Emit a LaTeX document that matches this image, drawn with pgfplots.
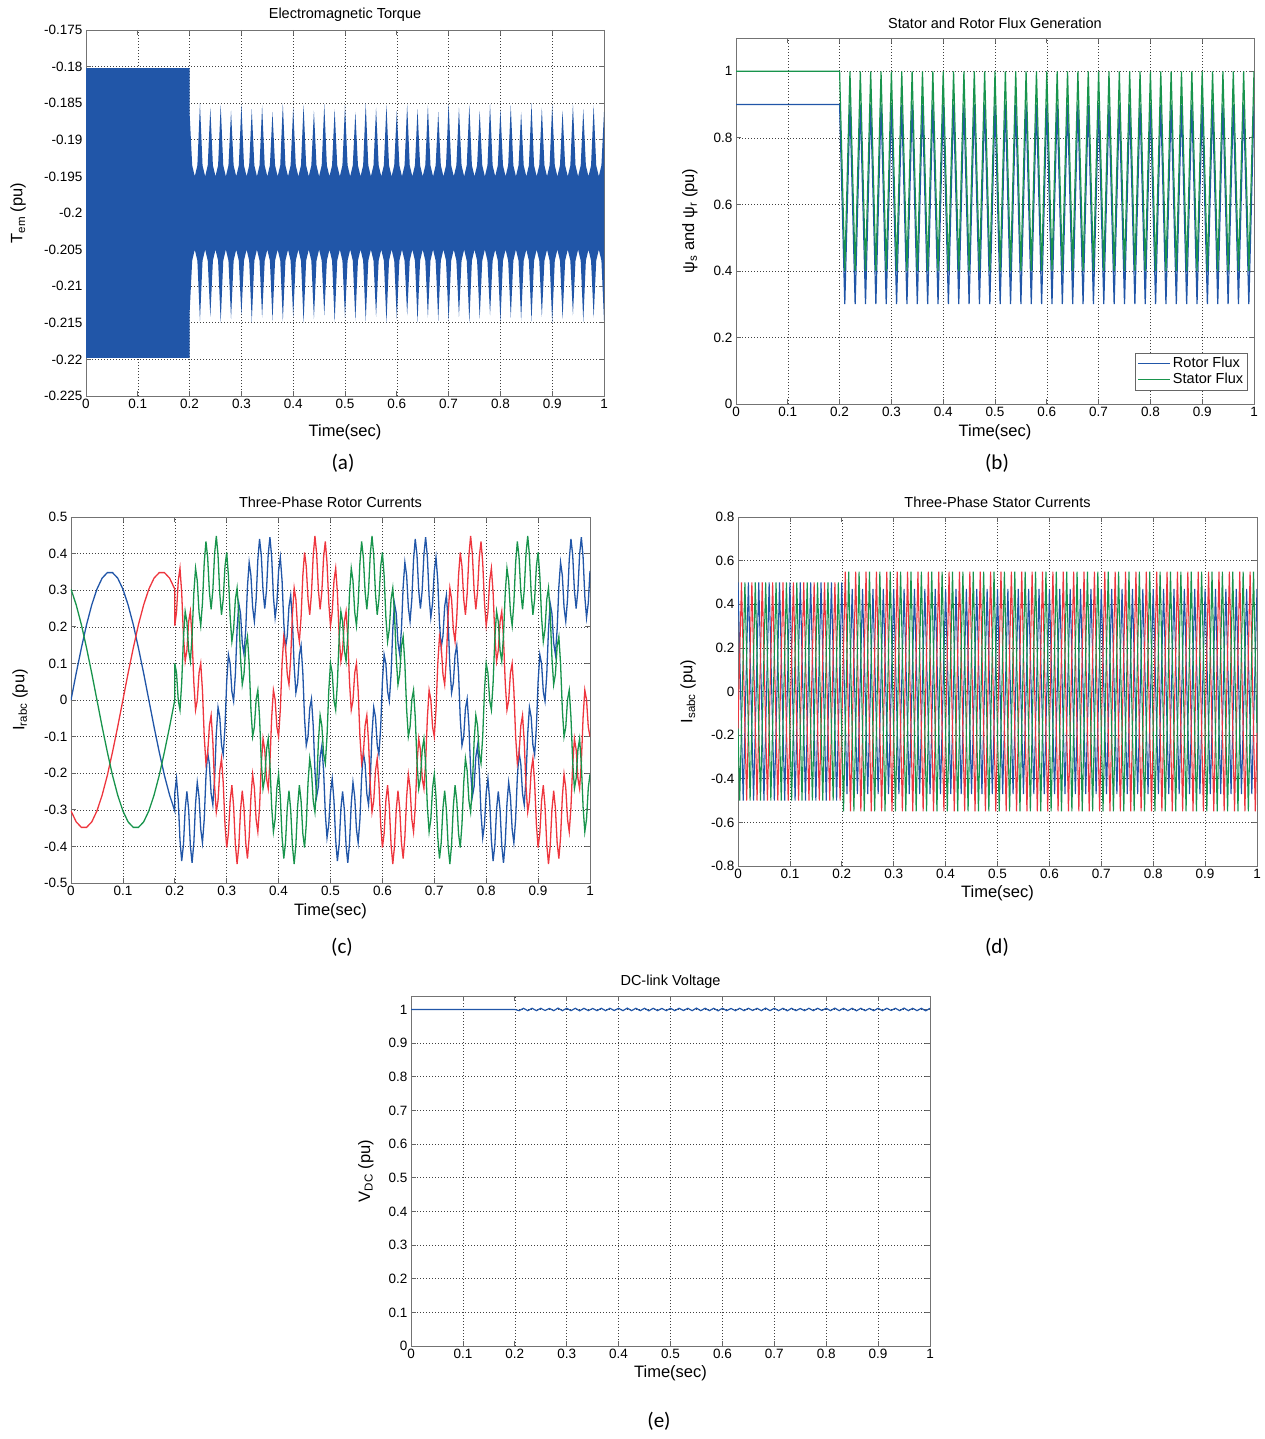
\documentclass[border=0pt]{standalone}
\usepackage{fontspec}
\setmainfont{Liberation Sans}
\newfontfamily\subfont{Carlito}
\usepackage{pgfplots}
\usepackage{pgfplotstable}
\pgfplotsset{compat=1.18}

\definecolor{mblue}{RGB}{33,86,168}
\definecolor{mgreen}{RGB}{24,148,76}
\definecolor{mred}{RGB}{238,54,62}

\pgfplotsset{
  matlab/.style={
    scale only axis, anchor=north west,
    xmin=0, xmax=1,
    xtick={0,0.1,0.2,0.3,0.4,0.5,0.6,0.7,0.8,0.9,1},
    xticklabels={0,0.1,0.2,0.3,0.4,0.5,0.6,0.7,0.8,0.9,1},
    grid=major,
    grid style={black!75, dash pattern=on 1pt off 2pt, line width=0.6pt},
    axis line style={black!55, line width=0.8pt},
    tick align=inside, major tick length=5pt,
    tick style={black!60, line width=0.7pt},
    tick label style={font=\fontsize{13.5}{15}\selectfont},
    title style={font=\fontsize{14.5}{16}\selectfont, at={(axis description cs:0.5,1.044)}, anchor=center, yshift=-7pt},
    label style={font=\fontsize{16.5}{18}\selectfont},
    xlabel={Time(sec)},
    xlabel style={at={(axis description cs:0.5,-0.077)}, anchor=center},
  }
}

% stator (g) and rotor (b) flux
\pgfplotstableread{
x g b
0 1 0.9
0.2 1 0.9
0.21 0.4 0.3
0.22 1 0.9
0.23 0.4 0.3
0.24 1 0.9
0.25 0.4 0.3
0.26 1 0.9
0.27 0.4 0.3
0.28 1 0.9
0.29 0.4 0.3
0.30 1 0.9
0.31 0.4 0.3
0.32 1 0.9
0.33 0.4 0.3
0.34 1 0.9
0.35 0.4 0.3
0.36 1 0.9
0.37 0.4 0.3
0.38 1 0.9
0.39 0.4 0.3
0.40 1 0.9
0.41 0.4 0.3
0.42 1 0.9
0.43 0.4 0.3
0.44 1 0.9
0.45 0.4 0.3
0.46 1 0.9
0.47 0.4 0.3
0.48 1 0.9
0.49 0.4 0.3
0.50 1 0.9
0.51 0.4 0.3
0.52 1 0.9
0.53 0.4 0.3
0.54 1 0.9
0.55 0.4 0.3
0.56 1 0.9
0.57 0.4 0.3
0.58 1 0.9
0.59 0.4 0.3
0.60 1 0.9
0.61 0.4 0.3
0.62 1 0.9
0.63 0.4 0.3
0.64 1 0.9
0.65 0.4 0.3
0.66 1 0.9
0.67 0.4 0.3
0.68 1 0.9
0.69 0.4 0.3
0.70 1 0.9
0.71 0.4 0.3
0.72 1 0.9
0.73 0.4 0.3
0.74 1 0.9
0.75 0.4 0.3
0.76 1 0.9
0.77 0.4 0.3
0.78 1 0.9
0.79 0.4 0.3
0.80 1 0.9
0.81 0.4 0.3
0.82 1 0.9
0.83 0.4 0.3
0.84 1 0.9
0.85 0.4 0.3
0.86 1 0.9
0.87 0.4 0.3
0.88 1 0.9
0.89 0.4 0.3
0.90 1 0.9
0.91 0.4 0.3
0.92 1 0.9
0.93 0.4 0.3
0.94 1 0.9
0.95 0.4 0.3
0.96 1 0.9
0.97 0.4 0.3
0.98 1 0.9
0.99 0.4 0.3
1.00 1 0.9
}\flux

% three-phase rotor currents
\pgfplotstableread{
x b r g
0 0 -0.303 0.303
0.01 0.073 -0.333 0.260
0.02 0.142 -0.348 0.206
0.03 0.206 -0.348 0.142
0.04 0.260 -0.333 0.073
0.05 0.303 -0.303 0
0.06 0.333 -0.260 -0.073
0.07 0.348 -0.206 -0.142
0.08 0.348 -0.142 -0.206
0.09 0.333 -0.073 -0.260
0.1 0.303 0 -0.303
0.11 0.260 0.073 -0.333
0.12 0.206 0.142 -0.348
0.13 0.142 0.206 -0.348
0.14 0.073 0.260 -0.333
0.15 0 0.303 -0.303
0.16 -0.073 0.333 -0.260
0.17 -0.142 0.348 -0.206
0.18 -0.206 0.348 -0.142
0.19 -0.260 0.333 -0.073
0.2 -0.303 0.303 0
0.2 -0.253 0.203 0.100
0.2033 -0.215 0.240 0.074
0.2067 -0.275 0.326 -0.001
0.21 -0.383 0.360 -0.027
0.2133 -0.440 0.293 0.047
0.2167 -0.395 0.175 0.170
0.22 -0.298 0.106 0.242
0.2233 -0.250 0.136 0.214
0.2267 -0.300 0.214 0.136
0.23 -0.398 0.242 0.106
0.2333 -0.445 0.170 0.175
0.2367 -0.390 0.047 0.293
0.24 -0.283 -0.027 0.360
0.2433 -0.225 -0.001 0.326
0.2467 -0.265 0.074 0.240
0.25 -0.353 0.100 0.203
0.2533 -0.390 0.026 0.265
0.2567 -0.326 -0.099 0.375
0.26 -0.210 -0.173 0.433
0.2633 -0.143 -0.147 0.390
0.2667 -0.175 -0.070 0.295
0.27 -0.256 -0.042 0.248
0.2733 -0.286 -0.114 0.300
0.2767 -0.214 -0.236 0.400
0.28 -0.092 -0.306 0.448
0.2833 -0.020 -0.275 0.395
0.2867 -0.047 -0.193 0.290
0.29 -0.123 -0.160 0.233
0.2933 -0.149 -0.226 0.275
0.2967 -0.074 -0.340 0.365
0.3 0.050 -0.403 0.403
0.3033 0.124 -0.365 0.340
0.3067 0.099 -0.275 0.226
0.31 0.023 -0.233 0.160
0.3133 -0.003 -0.290 0.193
0.3167 0.070 -0.395 0.275
0.32 0.192 -0.448 0.306
0.3233 0.264 -0.400 0.236
0.3267 0.236 -0.300 0.114
0.33 0.156 -0.248 0.042
0.3333 0.125 -0.295 0.070
0.3367 0.193 -0.390 0.147
0.34 0.310 -0.433 0.173
0.3433 0.376 -0.375 0.099
0.3467 0.340 -0.265 -0.026
0.35 0.253 -0.203 -0.100
0.3533 0.215 -0.240 -0.074
0.3567 0.275 -0.326 0.001
0.36 0.383 -0.360 0.027
0.3633 0.440 -0.293 -0.047
0.3667 0.395 -0.175 -0.170
0.37 0.298 -0.106 -0.242
0.3733 0.250 -0.136 -0.214
0.3767 0.300 -0.214 -0.136
0.38 0.398 -0.242 -0.106
0.3833 0.445 -0.170 -0.175
0.3867 0.390 -0.047 -0.293
0.39 0.283 0.027 -0.360
0.3933 0.225 0.001 -0.326
0.3967 0.265 -0.074 -0.240
0.4 0.353 -0.100 -0.203
0.4033 0.390 -0.026 -0.265
0.4067 0.326 0.099 -0.375
0.41 0.210 0.173 -0.433
0.4133 0.143 0.147 -0.390
0.4167 0.175 0.070 -0.295
0.42 0.256 0.042 -0.248
0.4233 0.286 0.114 -0.300
0.4267 0.214 0.236 -0.400
0.43 0.092 0.306 -0.448
0.4333 0.020 0.275 -0.395
0.4367 0.047 0.193 -0.290
0.44 0.123 0.160 -0.233
0.4433 0.149 0.226 -0.275
0.4467 0.074 0.340 -0.365
0.45 -0.050 0.403 -0.403
0.4533 -0.124 0.365 -0.340
0.4567 -0.099 0.275 -0.226
0.46 -0.023 0.233 -0.160
0.4633 0.003 0.290 -0.193
0.4667 -0.070 0.395 -0.275
0.47 -0.192 0.448 -0.306
0.4733 -0.264 0.400 -0.236
0.4767 -0.236 0.300 -0.114
0.48 -0.156 0.248 -0.042
0.4833 -0.125 0.295 -0.070
0.4867 -0.193 0.390 -0.147
0.49 -0.310 0.433 -0.173
0.4933 -0.376 0.375 -0.099
0.4967 -0.340 0.265 0.026
0.5 -0.253 0.203 0.100
0.5033 -0.215 0.240 0.074
0.5067 -0.275 0.326 -0.001
0.51 -0.383 0.360 -0.027
0.5133 -0.440 0.293 0.047
0.5167 -0.395 0.175 0.170
0.52 -0.298 0.106 0.242
0.5233 -0.250 0.136 0.214
0.5267 -0.300 0.214 0.136
0.53 -0.398 0.242 0.106
0.5333 -0.445 0.170 0.175
0.5367 -0.390 0.047 0.293
0.54 -0.283 -0.027 0.360
0.5433 -0.225 -0.001 0.326
0.5467 -0.265 0.074 0.240
0.55 -0.353 0.100 0.203
0.5533 -0.390 0.026 0.265
0.5567 -0.326 -0.099 0.375
0.56 -0.210 -0.173 0.433
0.5633 -0.143 -0.147 0.390
0.5667 -0.175 -0.070 0.295
0.57 -0.256 -0.042 0.248
0.5733 -0.286 -0.114 0.300
0.5767 -0.214 -0.236 0.400
0.58 -0.092 -0.306 0.448
0.5833 -0.020 -0.275 0.395
0.5867 -0.047 -0.193 0.290
0.59 -0.123 -0.160 0.233
0.5933 -0.149 -0.226 0.275
0.5967 -0.074 -0.340 0.365
0.6 0.050 -0.403 0.403
0.6033 0.124 -0.365 0.340
0.6067 0.099 -0.275 0.226
0.61 0.023 -0.233 0.160
0.6133 -0.003 -0.290 0.193
0.6167 0.070 -0.395 0.275
0.62 0.192 -0.448 0.306
0.6233 0.264 -0.400 0.236
0.6267 0.236 -0.300 0.114
0.63 0.156 -0.248 0.042
0.6333 0.125 -0.295 0.070
0.6367 0.193 -0.390 0.147
0.64 0.310 -0.433 0.173
0.6433 0.376 -0.375 0.099
0.6467 0.340 -0.265 -0.026
0.65 0.253 -0.203 -0.100
0.6533 0.215 -0.240 -0.074
0.6567 0.275 -0.326 0.001
0.66 0.383 -0.360 0.027
0.6633 0.440 -0.293 -0.047
0.6667 0.395 -0.175 -0.170
0.67 0.298 -0.106 -0.242
0.6733 0.250 -0.136 -0.214
0.6767 0.300 -0.214 -0.136
0.68 0.398 -0.242 -0.106
0.6833 0.445 -0.170 -0.175
0.6867 0.390 -0.047 -0.293
0.69 0.283 0.027 -0.360
0.6933 0.225 0.001 -0.326
0.6967 0.265 -0.074 -0.240
0.7 0.353 -0.100 -0.203
0.7033 0.390 -0.026 -0.265
0.7067 0.326 0.099 -0.375
0.71 0.210 0.173 -0.433
0.7133 0.143 0.147 -0.390
0.7167 0.175 0.070 -0.295
0.72 0.256 0.042 -0.248
0.7233 0.286 0.114 -0.300
0.7267 0.214 0.236 -0.400
0.73 0.092 0.306 -0.448
0.7333 0.020 0.275 -0.395
0.7367 0.047 0.193 -0.290
0.74 0.123 0.160 -0.233
0.7433 0.149 0.226 -0.275
0.7467 0.074 0.340 -0.365
0.75 -0.050 0.403 -0.403
0.7533 -0.124 0.365 -0.340
0.7567 -0.099 0.275 -0.226
0.76 -0.023 0.233 -0.160
0.7633 0.003 0.290 -0.193
0.7667 -0.070 0.395 -0.275
0.77 -0.192 0.448 -0.306
0.7733 -0.264 0.400 -0.236
0.7767 -0.236 0.300 -0.114
0.78 -0.156 0.248 -0.042
0.7833 -0.125 0.295 -0.070
0.7867 -0.193 0.390 -0.147
0.79 -0.310 0.433 -0.173
0.7933 -0.376 0.375 -0.099
0.7967 -0.340 0.265 0.026
0.8 -0.253 0.203 0.100
0.8033 -0.215 0.240 0.074
0.8067 -0.275 0.326 -0.001
0.81 -0.383 0.360 -0.027
0.8133 -0.440 0.293 0.047
0.8167 -0.395 0.175 0.170
0.82 -0.298 0.106 0.242
0.8233 -0.250 0.136 0.214
0.8267 -0.300 0.214 0.136
0.83 -0.398 0.242 0.106
0.8333 -0.445 0.170 0.175
0.8367 -0.390 0.047 0.293
0.84 -0.283 -0.027 0.360
0.8433 -0.225 -0.001 0.326
0.8467 -0.265 0.074 0.240
0.85 -0.353 0.100 0.203
0.8533 -0.390 0.026 0.265
0.8567 -0.326 -0.099 0.375
0.86 -0.210 -0.173 0.433
0.8633 -0.143 -0.147 0.390
0.8667 -0.175 -0.070 0.295
0.87 -0.256 -0.042 0.248
0.8733 -0.286 -0.114 0.300
0.8767 -0.214 -0.236 0.400
0.88 -0.092 -0.306 0.448
0.8833 -0.020 -0.275 0.395
0.8867 -0.047 -0.193 0.290
0.89 -0.123 -0.160 0.233
0.8933 -0.149 -0.226 0.275
0.8967 -0.074 -0.340 0.365
0.9 0.050 -0.403 0.403
0.9033 0.124 -0.365 0.340
0.9067 0.099 -0.275 0.226
0.91 0.023 -0.233 0.160
0.9133 -0.003 -0.290 0.193
0.9167 0.070 -0.395 0.275
0.92 0.192 -0.448 0.306
0.9233 0.264 -0.400 0.236
0.9267 0.236 -0.300 0.114
0.93 0.156 -0.248 0.042
0.9333 0.125 -0.295 0.070
0.9367 0.193 -0.390 0.147
0.94 0.310 -0.433 0.173
0.9433 0.376 -0.375 0.099
0.9467 0.340 -0.265 -0.026
0.95 0.253 -0.203 -0.100
0.9533 0.215 -0.240 -0.074
0.9567 0.275 -0.326 0.001
0.96 0.383 -0.360 0.027
0.9633 0.440 -0.293 -0.047
0.9667 0.395 -0.175 -0.170
0.97 0.298 -0.106 -0.242
0.9733 0.250 -0.136 -0.214
0.9767 0.300 -0.214 -0.136
0.98 0.398 -0.242 -0.106
0.9833 0.445 -0.170 -0.175
0.9867 0.390 -0.047 -0.293
0.99 0.283 0.027 -0.360
0.9933 0.225 0.001 -0.326
0.9967 0.265 -0.074 -0.240
1 0.353 -0.100 -0.203
}\rotor

\begin{document}
\begin{tikzpicture}
\path[use as bounding box] (0pt,0pt) rectangle (1264pt,-1439pt);

% (a) Electromagnetic Torque: upper envelope left to right, lower envelope back
\begin{axis}[matlab, at={(86pt,-30pt)}, width=518pt, height=366pt,
  ymin=-0.225, ymax=-0.175,
  ytick={-0.225,-0.22,-0.215,-0.21,-0.205,-0.2,-0.195,-0.19,-0.185,-0.18,-0.175},
  yticklabels={-0.225,-0.22,-0.215,-0.21,-0.205,-0.2,-0.195,-0.19,-0.185,-0.18,-0.175},
  title={Electromagnetic Torque},
  xlabel style={at={(axis description cs:0.5,-0.098)}},
  ylabel={T\textsubscript{em} (pu)},
  ylabel style={at={(axis description cs:-0.131,0.5)}, anchor=center}]
\addplot[fill=mblue, draw=none] coordinates {
(0,-0.1802)(0.2,-0.1802)(0.2001,-0.1865)(0.205,-0.1935)(0.21,-0.195)(0.215,-0.1935)
(0.22,-0.1850)(0.225,-0.1935)(0.23,-0.195)(0.235,-0.1935)(0.24,-0.1856)(0.245,-0.1935)(0.25,-0.195)(0.255,-0.1935)
(0.26,-0.1852)(0.265,-0.1935)(0.27,-0.195)(0.275,-0.1935)(0.28,-0.1860)(0.285,-0.1935)(0.29,-0.195)(0.295,-0.1935)
(0.30,-0.1851)(0.305,-0.1935)(0.31,-0.195)(0.315,-0.1935)(0.32,-0.1858)(0.325,-0.1935)(0.33,-0.195)(0.335,-0.1935)
(0.34,-0.1853)(0.345,-0.1935)(0.35,-0.195)(0.355,-0.1935)(0.36,-0.1862)(0.365,-0.1935)(0.37,-0.195)(0.375,-0.1935)
(0.38,-0.1850)(0.385,-0.1935)(0.39,-0.195)(0.395,-0.1935)(0.40,-0.1856)(0.405,-0.1935)(0.41,-0.195)(0.415,-0.1935)
(0.42,-0.1852)(0.425,-0.1935)(0.43,-0.195)(0.435,-0.1935)(0.44,-0.1860)(0.445,-0.1935)(0.45,-0.195)(0.455,-0.1935)
(0.46,-0.1851)(0.465,-0.1935)(0.47,-0.195)(0.475,-0.1935)(0.48,-0.1858)(0.485,-0.1935)(0.49,-0.195)(0.495,-0.1935)
(0.50,-0.1853)(0.505,-0.1935)(0.51,-0.195)(0.515,-0.1935)(0.52,-0.1862)(0.525,-0.1935)(0.53,-0.195)(0.535,-0.1935)
(0.54,-0.1850)(0.545,-0.1935)(0.55,-0.195)(0.555,-0.1935)(0.56,-0.1856)(0.565,-0.1935)(0.57,-0.195)(0.575,-0.1935)
(0.58,-0.1852)(0.585,-0.1935)(0.59,-0.195)(0.595,-0.1935)(0.60,-0.1860)(0.605,-0.1935)(0.61,-0.195)(0.615,-0.1935)
(0.62,-0.1851)(0.625,-0.1935)(0.63,-0.195)(0.635,-0.1935)(0.64,-0.1858)(0.645,-0.1935)(0.65,-0.195)(0.655,-0.1935)
(0.66,-0.1853)(0.665,-0.1935)(0.67,-0.195)(0.675,-0.1935)(0.68,-0.1862)(0.685,-0.1935)(0.69,-0.195)(0.695,-0.1935)
(0.70,-0.1850)(0.705,-0.1935)(0.71,-0.195)(0.715,-0.1935)(0.72,-0.1856)(0.725,-0.1935)(0.73,-0.195)(0.735,-0.1935)
(0.74,-0.1852)(0.745,-0.1935)(0.75,-0.195)(0.755,-0.1935)(0.76,-0.1860)(0.765,-0.1935)(0.77,-0.195)(0.775,-0.1935)
(0.78,-0.1851)(0.785,-0.1935)(0.79,-0.195)(0.795,-0.1935)(0.80,-0.1858)(0.805,-0.1935)(0.81,-0.195)(0.815,-0.1935)
(0.82,-0.1853)(0.825,-0.1935)(0.83,-0.195)(0.835,-0.1935)(0.84,-0.1862)(0.845,-0.1935)(0.85,-0.195)(0.855,-0.1935)
(0.86,-0.1850)(0.865,-0.1935)(0.87,-0.195)(0.875,-0.1935)(0.88,-0.1856)(0.885,-0.1935)(0.89,-0.195)(0.895,-0.1935)
(0.90,-0.1852)(0.905,-0.1935)(0.91,-0.195)(0.915,-0.1935)(0.92,-0.1860)(0.925,-0.1935)(0.93,-0.195)(0.935,-0.1935)
(0.94,-0.1851)(0.945,-0.1935)(0.95,-0.195)(0.955,-0.1935)(0.96,-0.1858)(0.965,-0.1935)(0.97,-0.195)(0.975,-0.1935)
(0.98,-0.1853)(0.985,-0.1935)(0.99,-0.195)(0.995,-0.1935)(1.00,-0.1862)
(1.00,-0.2147)(0.995,-0.2065)(0.99,-0.205)(0.985,-0.2065)(0.98,-0.2143)(0.975,-0.2065)(0.97,-0.205)(0.965,-0.2065)
(0.96,-0.2149)(0.955,-0.2065)(0.95,-0.205)(0.945,-0.2065)(0.94,-0.2140)(0.935,-0.2065)(0.93,-0.205)(0.925,-0.2065)
(0.92,-0.2145)(0.915,-0.2065)(0.91,-0.205)(0.905,-0.2065)(0.90,-0.2150)(0.895,-0.2065)(0.89,-0.205)(0.885,-0.2065)
(0.88,-0.2142)(0.875,-0.2065)(0.87,-0.205)(0.865,-0.2065)(0.86,-0.2148)(0.855,-0.2065)(0.85,-0.205)(0.845,-0.2065)
(0.84,-0.2147)(0.835,-0.2065)(0.83,-0.205)(0.825,-0.2065)(0.82,-0.2143)(0.815,-0.2065)(0.81,-0.205)(0.805,-0.2065)
(0.80,-0.2149)(0.795,-0.2065)(0.79,-0.205)(0.785,-0.2065)(0.78,-0.2140)(0.775,-0.2065)(0.77,-0.205)(0.765,-0.2065)
(0.76,-0.2145)(0.755,-0.2065)(0.75,-0.205)(0.745,-0.2065)(0.74,-0.2150)(0.735,-0.2065)(0.73,-0.205)(0.725,-0.2065)
(0.72,-0.2142)(0.715,-0.2065)(0.71,-0.205)(0.705,-0.2065)(0.70,-0.2148)(0.695,-0.2065)(0.69,-0.205)(0.685,-0.2065)
(0.68,-0.2147)(0.675,-0.2065)(0.67,-0.205)(0.665,-0.2065)(0.66,-0.2143)(0.655,-0.2065)(0.65,-0.205)(0.645,-0.2065)
(0.64,-0.2149)(0.635,-0.2065)(0.63,-0.205)(0.625,-0.2065)(0.62,-0.2140)(0.615,-0.2065)(0.61,-0.205)(0.605,-0.2065)
(0.60,-0.2145)(0.595,-0.2065)(0.59,-0.205)(0.585,-0.2065)(0.58,-0.2150)(0.575,-0.2065)(0.57,-0.205)(0.565,-0.2065)
(0.56,-0.2142)(0.555,-0.2065)(0.55,-0.205)(0.545,-0.2065)(0.54,-0.2148)(0.535,-0.2065)(0.53,-0.205)(0.525,-0.2065)
(0.52,-0.2147)(0.515,-0.2065)(0.51,-0.205)(0.505,-0.2065)(0.50,-0.2143)(0.495,-0.2065)(0.49,-0.205)(0.485,-0.2065)
(0.48,-0.2149)(0.475,-0.2065)(0.47,-0.205)(0.465,-0.2065)(0.46,-0.2140)(0.455,-0.2065)(0.45,-0.205)(0.445,-0.2065)
(0.44,-0.2145)(0.435,-0.2065)(0.43,-0.205)(0.425,-0.2065)(0.42,-0.2150)(0.415,-0.2065)(0.41,-0.205)(0.405,-0.2065)
(0.40,-0.2142)(0.395,-0.2065)(0.39,-0.205)(0.385,-0.2065)(0.38,-0.2148)(0.375,-0.2065)(0.37,-0.205)(0.365,-0.2065)
(0.36,-0.2147)(0.355,-0.2065)(0.35,-0.205)(0.345,-0.2065)(0.34,-0.2143)(0.335,-0.2065)(0.33,-0.205)(0.325,-0.2065)
(0.32,-0.2149)(0.315,-0.2065)(0.31,-0.205)(0.305,-0.2065)(0.30,-0.2140)(0.295,-0.2065)(0.29,-0.205)(0.285,-0.2065)
(0.28,-0.2145)(0.275,-0.2065)(0.27,-0.205)(0.265,-0.2065)(0.26,-0.2150)(0.255,-0.2065)(0.25,-0.205)(0.245,-0.2065)
(0.24,-0.2142)(0.235,-0.2065)(0.23,-0.205)(0.225,-0.2065)(0.22,-0.2148)(0.215,-0.2065)(0.21,-0.205)(0.205,-0.2065)
(0.2001,-0.2135)(0.2,-0.2198)(0,-0.2198)};
\end{axis}

% (b) Stator and Rotor Flux
\begin{axis}[matlab, at={(736pt,-38pt)}, width=518pt, height=366pt,
  ymin=0, ymax=1.1,
  ytick={0,0.2,0.4,0.6,0.8,1}, yticklabels={0,0.2,0.4,0.6,0.8,1},
  title={Stator and Rotor Flux Generation},
  ylabel={ψ\textsubscript{s} and ψ\textsubscript{r} (pu)},
  ylabel style={at={(axis description cs:-0.089,0.5)}, anchor=center},
  legend style={at={(axis description cs:0.988,0.038)}, anchor=south east,
    draw=black!60, font=\fontsize{14.5}{17}\selectfont, inner sep=2.5pt,
    row sep=0pt, cells={anchor=west}},
  legend image code/.code={\draw[#1] (0pt,0pt) -- (32pt,0pt);}]
\addplot[draw=mblue, line width=1.2pt] table[x=x, y=b] {\flux};
\addlegendentry{Rotor Flux}
\addplot[draw=mgreen, line width=1.2pt] table[x=x, y=g] {\flux};
\addlegendentry{Stator Flux}
\end{axis}

% (c) Three-Phase Rotor Currents
\begin{axis}[matlab, at={(71pt,-517pt)}, width=519pt, height=366pt,
  ymin=-0.5, ymax=0.5,
  ytick={-0.5,-0.4,-0.3,-0.2,-0.1,0,0.1,0.2,0.3,0.4,0.5},
  yticklabels={-0.5,-0.4,-0.3,-0.2,-0.1,0,0.1,0.2,0.3,0.4,0.5},
  title={Three-Phase Rotor Currents},
  ylabel={I\textsubscript{rabc} (pu)},
  ylabel style={at={(axis description cs:-0.098,0.5)}, anchor=center}]
\addplot[mblue, line width=1.3pt] table[x=x, y=b] {\rotor};
\addplot[mred, line width=1.3pt] table[x=x, y=r] {\rotor};
\addplot[mgreen, line width=1.3pt] table[x=x, y=g] {\rotor};
\end{axis}

% (d) Three-Phase Stator Currents
\begin{axis}[matlab, at={(738pt,-517pt)}, width=519pt, height=349pt,
  ymin=-0.8, ymax=0.8,
  ytick={-0.8,-0.6,-0.4,-0.2,0,0.2,0.4,0.6,0.8},
  yticklabels={-0.8,-0.6,-0.4,-0.2,0,0.2,0.4,0.6,0.8},
  title={Three-Phase Stator Currents},
  title style={at={(axis description cs:0.5,1.046)}},
  ylabel={I\textsubscript{sabc} (pu)},
  ylabel style={at={(axis description cs:-0.096,0.5)}, anchor=center}]
\addplot[mblue, line width=1.1pt] coordinates {
(0,0.5)(0.01,-0.5)(0.02,0.5)(0.03,-0.5)(0.04,0.5)(0.05,-0.5)(0.06,0.5)(0.07,-0.5)(0.08,0.5)(0.09,-0.5)
(0.1,0.5)(0.11,-0.5)(0.12,0.5)(0.13,-0.5)(0.14,0.5)(0.15,-0.5)(0.16,0.5)(0.17,-0.5)(0.18,0.5)(0.19,-0.5)
(0.2,0.5)(0.21,-0.47)(0.22,0.47)(0.23,-0.47)(0.24,0.47)(0.25,-0.47)(0.26,0.47)(0.27,-0.47)(0.28,0.47)(0.29,-0.47)
(0.3,0.47)(0.31,-0.47)(0.32,0.47)(0.33,-0.47)(0.34,0.47)(0.35,-0.47)(0.36,0.47)(0.37,-0.47)(0.38,0.47)(0.39,-0.47)
(0.4,0.47)(0.41,-0.47)(0.42,0.47)(0.43,-0.47)(0.44,0.47)(0.45,-0.47)(0.46,0.47)(0.47,-0.47)(0.48,0.47)(0.49,-0.47)
(0.5,0.47)(0.51,-0.47)(0.52,0.47)(0.53,-0.47)(0.54,0.47)(0.55,-0.47)(0.56,0.47)(0.57,-0.47)(0.58,0.47)(0.59,-0.47)
(0.6,0.47)(0.61,-0.47)(0.62,0.47)(0.63,-0.47)(0.64,0.47)(0.65,-0.47)(0.66,0.47)(0.67,-0.47)(0.68,0.47)(0.69,-0.47)
(0.7,0.47)(0.71,-0.47)(0.72,0.47)(0.73,-0.47)(0.74,0.47)(0.75,-0.47)(0.76,0.47)(0.77,-0.47)(0.78,0.47)(0.79,-0.47)
(0.8,0.47)(0.81,-0.47)(0.82,0.47)(0.83,-0.47)(0.84,0.47)(0.85,-0.47)(0.86,0.47)(0.87,-0.47)(0.88,0.47)(0.89,-0.47)
(0.9,0.47)(0.91,-0.47)(0.92,0.47)(0.93,-0.47)(0.94,0.47)(0.95,-0.47)(0.96,0.47)(0.97,-0.47)(0.98,0.47)(0.99,-0.47)
(1,0.47)};
\addplot[mred, line width=1.1pt] coordinates {
(0,-0.17)(0.0067,0.5)(0.0167,-0.5)(0.0267,0.5)(0.0367,-0.5)(0.0467,0.5)(0.0567,-0.5)(0.0667,0.5)(0.0767,-0.5)(0.0867,0.5)(0.0967,-0.5)
(0.1067,0.5)(0.1167,-0.5)(0.1267,0.5)(0.1367,-0.5)(0.1467,0.5)(0.1567,-0.5)(0.1667,0.5)(0.1767,-0.5)(0.1867,0.5)(0.1967,-0.5)
(0.2067,0.55)(0.2167,-0.55)(0.2267,0.55)(0.2367,-0.55)(0.2467,0.55)(0.2567,-0.55)(0.2667,0.55)(0.2767,-0.55)(0.2867,0.55)(0.2967,-0.55)
(0.3067,0.55)(0.3167,-0.55)(0.3267,0.55)(0.3367,-0.55)(0.3467,0.55)(0.3567,-0.55)(0.3667,0.55)(0.3767,-0.55)(0.3867,0.55)(0.3967,-0.55)
(0.4067,0.55)(0.4167,-0.55)(0.4267,0.55)(0.4367,-0.55)(0.4467,0.55)(0.4567,-0.55)(0.4667,0.55)(0.4767,-0.55)(0.4867,0.55)(0.4967,-0.55)
(0.5067,0.55)(0.5167,-0.55)(0.5267,0.55)(0.5367,-0.55)(0.5467,0.55)(0.5567,-0.55)(0.5667,0.55)(0.5767,-0.55)(0.5867,0.55)(0.5967,-0.55)
(0.6067,0.55)(0.6167,-0.55)(0.6267,0.55)(0.6367,-0.55)(0.6467,0.55)(0.6567,-0.55)(0.6667,0.55)(0.6767,-0.55)(0.6867,0.55)(0.6967,-0.55)
(0.7067,0.55)(0.7167,-0.55)(0.7267,0.55)(0.7367,-0.55)(0.7467,0.55)(0.7567,-0.55)(0.7667,0.55)(0.7767,-0.55)(0.7867,0.55)(0.7967,-0.55)
(0.8067,0.55)(0.8167,-0.55)(0.8267,0.55)(0.8367,-0.55)(0.8467,0.55)(0.8567,-0.55)(0.8667,0.55)(0.8767,-0.55)(0.8867,0.55)(0.8967,-0.55)
(0.9067,0.55)(0.9167,-0.55)(0.9267,0.55)(0.9367,-0.55)(0.9467,0.55)(0.9567,-0.55)(0.9667,0.55)(0.9767,-0.55)(0.9867,0.55)(0.9967,-0.55)
(1,-0.19)};
\addplot[mgreen, line width=1.1pt] coordinates {
(0,-0.17)(0.0033,-0.5)(0.0133,0.5)(0.0233,-0.5)(0.0333,0.5)(0.0433,-0.5)(0.0533,0.5)(0.0633,-0.5)(0.0733,0.5)(0.0833,-0.5)(0.0933,0.5)
(0.1033,-0.5)(0.1133,0.5)(0.1233,-0.5)(0.1333,0.5)(0.1433,-0.5)(0.1533,0.5)(0.1633,-0.5)(0.1733,0.5)(0.1833,-0.5)(0.1933,0.5)
(0.2033,-0.55)(0.2133,0.55)(0.2233,-0.55)(0.2333,0.55)(0.2433,-0.55)(0.2533,0.55)(0.2633,-0.55)(0.2733,0.55)(0.2833,-0.55)(0.2933,0.55)
(0.3033,-0.55)(0.3133,0.55)(0.3233,-0.55)(0.3333,0.55)(0.3433,-0.55)(0.3533,0.55)(0.3633,-0.55)(0.3733,0.55)(0.3833,-0.55)(0.3933,0.55)
(0.4033,-0.55)(0.4133,0.55)(0.4233,-0.55)(0.4333,0.55)(0.4433,-0.55)(0.4533,0.55)(0.4633,-0.55)(0.4733,0.55)(0.4833,-0.55)(0.4933,0.55)
(0.5033,-0.55)(0.5133,0.55)(0.5233,-0.55)(0.5333,0.55)(0.5433,-0.55)(0.5533,0.55)(0.5633,-0.55)(0.5733,0.55)(0.5833,-0.55)(0.5933,0.55)
(0.6033,-0.55)(0.6133,0.55)(0.6233,-0.55)(0.6333,0.55)(0.6433,-0.55)(0.6533,0.55)(0.6633,-0.55)(0.6733,0.55)(0.6833,-0.55)(0.6933,0.55)
(0.7033,-0.55)(0.7133,0.55)(0.7233,-0.55)(0.7333,0.55)(0.7433,-0.55)(0.7533,0.55)(0.7633,-0.55)(0.7733,0.55)(0.7833,-0.55)(0.7933,0.55)
(0.8033,-0.55)(0.8133,0.55)(0.8233,-0.55)(0.8333,0.55)(0.8433,-0.55)(0.8533,0.55)(0.8633,-0.55)(0.8733,0.55)(0.8833,-0.55)(0.8933,0.55)
(0.9033,-0.55)(0.9133,0.55)(0.9233,-0.55)(0.9333,0.55)(0.9433,-0.55)(0.9533,0.55)(0.9633,-0.55)(0.9733,0.55)(0.9833,-0.55)(0.9933,0.55)
(1,-0.19)};
\end{axis}

% (e) DC-link Voltage
\begin{axis}[matlab, at={(411pt,-996pt)}, width=519pt, height=350pt,
  ymin=0, ymax=1.04,
  ytick={0,0.1,0.2,0.3,0.4,0.5,0.6,0.7,0.8,0.9,1},
  yticklabels={0,0.1,0.2,0.3,0.4,0.5,0.6,0.7,0.8,0.9,1},
  title={DC-link Voltage},
  title style={at={(axis description cs:0.5,1.043)}},
  ylabel={V\textsubscript{DC} (pu)},
  ylabel style={at={(axis description cs:-0.087,0.5)}, anchor=center}]
\addplot[mblue, line width=1.2pt] coordinates {
(0,1)(0.2,1)
(0.2083,0.9965)(0.2167,1.0035)(0.225,0.9965)(0.2333,1.0035)(0.2417,0.9965)(0.25,1.0035)
(0.2583,0.997)(0.2667,1.003)(0.275,0.9965)(0.2833,1.004)(0.2917,0.9965)(0.3,1.0035)
(0.3083,0.9965)(0.3167,1.0035)(0.325,0.996)(0.3333,1.0035)(0.3417,0.9965)(0.35,1.003)
(0.3583,0.9965)(0.3667,1.0035)(0.375,0.9965)(0.3833,1.0035)(0.3917,0.997)(0.4,1.0035)
(0.4083,0.9965)(0.4167,1.004)(0.425,0.9965)(0.4333,1.0035)(0.4417,0.9965)(0.45,1.0035)
(0.4583,0.996)(0.4667,1.0035)(0.475,0.9965)(0.4833,1.003)(0.4917,0.9965)(0.5,1.0035)
(0.5083,0.9965)(0.5167,1.0035)(0.525,0.997)(0.5333,1.0035)(0.5417,0.9965)(0.55,1.004)
(0.5583,0.9965)(0.5667,1.0035)(0.575,0.9965)(0.5833,1.0035)(0.5917,0.996)(0.6,1.0035)
(0.6083,0.9965)(0.6167,1.003)(0.625,0.9965)(0.6333,1.0035)(0.6417,0.9965)(0.65,1.0035)
(0.6583,0.997)(0.6667,1.0035)(0.675,0.9965)(0.6833,1.004)(0.6917,0.9965)(0.7,1.0035)
(0.7083,0.9965)(0.7167,1.0035)(0.725,0.996)(0.7333,1.0035)(0.7417,0.9965)(0.75,1.003)
(0.7583,0.9965)(0.7667,1.0035)(0.775,0.9965)(0.7833,1.0035)(0.7917,0.997)(0.8,1.0035)
(0.8083,0.9965)(0.8167,1.004)(0.825,0.9965)(0.8333,1.0035)(0.8417,0.9965)(0.85,1.0035)
(0.8583,0.996)(0.8667,1.0035)(0.875,0.9965)(0.8833,1.003)(0.8917,0.9965)(0.9,1.0035)
(0.9083,0.9965)(0.9167,1.0035)(0.925,0.997)(0.9333,1.0035)(0.9417,0.9965)(0.95,1.004)
(0.9583,0.9965)(0.9667,1.0035)(0.975,0.9965)(0.9833,1.0035)(0.9917,0.996)(1,1.0035)};
\end{axis}

\node[font=\subfont\fontsize{21}{24}\selectfont] at (343pt,-463pt) {(a)};
\node[font=\subfont\fontsize{21}{24}\selectfont] at (997pt,-463pt) {(b)};
\node[font=\subfont\fontsize{21}{24}\selectfont] at (342pt,-947pt) {(c)};
\node[font=\subfont\fontsize{21}{24}\selectfont] at (997pt,-947pt) {(d)};
\node[font=\subfont\fontsize{21}{24}\selectfont] at (659pt,-1421pt) {(e)};
\end{tikzpicture}
\end{document}
